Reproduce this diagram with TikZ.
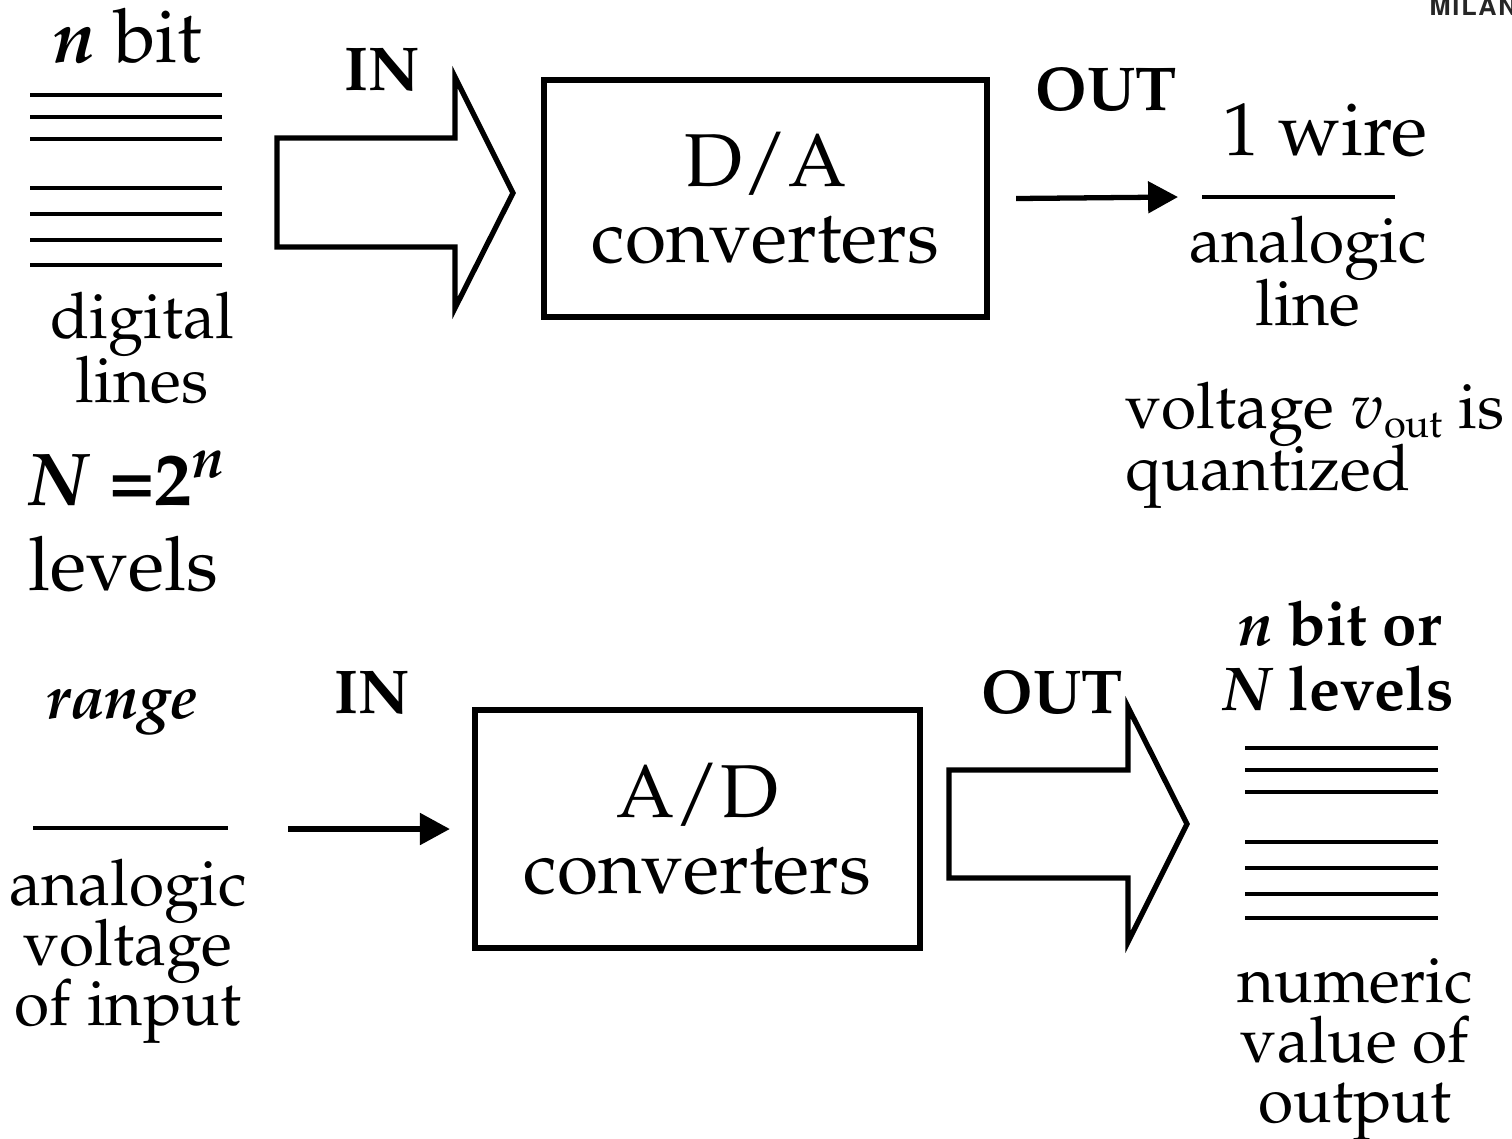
\documentclass[tikz,border=0pt]{standalone}
\usepackage[T1]{fontenc}
\usepackage{mathpazo}
\usepackage[scaled=0.92]{helvet}
\usetikzlibrary{arrows.meta}

\tikzset{
    big/.style={font=\fontsize{21.3}{25}\selectfont, inner sep=0pt, anchor=base},
    txt/.style={font=\fontsize{18.2}{21}\selectfont, inner sep=0pt, anchor=base},
    lbl/.style={font=\fontsize{17.6}{21}\selectfont\bfseries, inner sep=0pt, anchor=base},
    convbox/.style={draw, line width=1.7pt, inner sep=0pt, align=center,
        font=\fontsize{21.3}{21.7}\selectfont},
    fatarrow/.style={draw, line width=1.5pt, line join=miter},
    lvl/.style={line width=1pt},
    sig/.style={line width=1.5pt, -{Triangle[length=8.5pt,width=8.8pt]}}
}

\begin{document}
\begin{tikzpicture}[x=0.01cm, y=-0.01cm]
    \useasboundingbox (0,0) rectangle (1512,1138);

    % logo
    \node[anchor=base west, inner sep=0pt, text=black!85,
        font=\fontsize{7.8}{9}\sffamily\bfseries\selectfont] (logo) at (1429,15)
        {M\kern0.5pt I\kern0.5pt L\kern0.5pt A\kern0.5pt N};

    % ---------- D/A ----------
    % n digital lines
    \node[big] (nbit) at (128,62) {\textbf{\textit{n}} bit};
    \foreach \y in {95,117,139,188,214,240,265}
        \draw[lvl] (30,\y) -- (222,\y);
    \node[txt] (digital) at (142,338) {digital};
    \node[txt] (dlines) at (142,402) {lines};
    \node[big, anchor=base west] (Nlev) at (28,505) {\textbf{\textit{N} =2\textsuperscript{\textit{n}}}};
    \node[big, anchor=base west] (levels) at (28,590) {levels};

    % fat input arrow
    \draw[fatarrow] (277,138) -- (455,138) -- (455,77) -- (513,193)
        -- (455,308) -- (455,247) -- (277,247) -- cycle;
    \node[lbl] (intop) at (382,90) {IN};

    % converter
    \node[convbox, minimum width=4.43cm, minimum height=2.37cm] (da) at (765.5,198.5) {D/A\\converters};

    % output wire
    \node[lbl] (outtop) at (1106,110) {OUT};
    \coordinate (wireL) at (1178,197);
    \draw[sig] ([xshift=0.26cm]da.east) -- (wireL);
    \node[big] (wire) at (1325,155) {1 wire};
    \draw[lvl] (1202,197) -- (1395,197);
    \node[txt] (analogic) at (1308,262) {analogic};
    \node[txt] (aline) at (1308,325) {line};
    \node[txt, anchor=base west] (vout) at (1125,428)
        {voltage $v$\raisebox{-0.3ex}{\fontsize{11.3}{12}\selectfont out} is};
    \node[txt, anchor=base west] (quant) at (1125,490) {quantized};

    % ---------- A/D ----------
    % analog input
    \node[lbl] (range) at (122,718) {\textit{range}};
    \draw[lvl] (33,828) -- (228,828);
    \node[txt] (ana) at (128,905) {analogic};
    \node[txt] (volt) at (128,965) {voltage};
    \node[txt] (ofin) at (128,1025) {of input};

    \node[lbl] (inbot) at (372,713) {IN};
    \coordinate (inL) at (288,829);

    % converter
    \node[convbox, minimum width=4.45cm, minimum height=2.38cm] (ad) at (697.5,829) {A/D\\converters};
    \draw[sig] (inL) -- ([xshift=-0.22cm]ad.west);

    % fat output arrow
    \draw[fatarrow] (949,770) -- (1128,770) -- (1128,707) -- (1187,824)
        -- (1128,942) -- (1128,878) -- (949,878) -- cycle;
    \node[lbl] (outbot) at (1052,713) {OUT};

    % n output lines
    \node[lbl] (nbitor) at (1340,645) {\textit{n} bit or};
    \node[lbl] (Nlevels) at (1338,710) {\textit{N} levels};
    \foreach \y in {748,770,792,842,868,894,918}
        \draw[lvl] (1245,\y) -- (1438,\y);
    \node[txt] (numeric) at (1355,1002) {numeric};
    \node[txt] (valof) at (1355,1062) {value of};
    \node[txt] (output) at (1355,1122) {output};

\end{tikzpicture}
\end{document}
